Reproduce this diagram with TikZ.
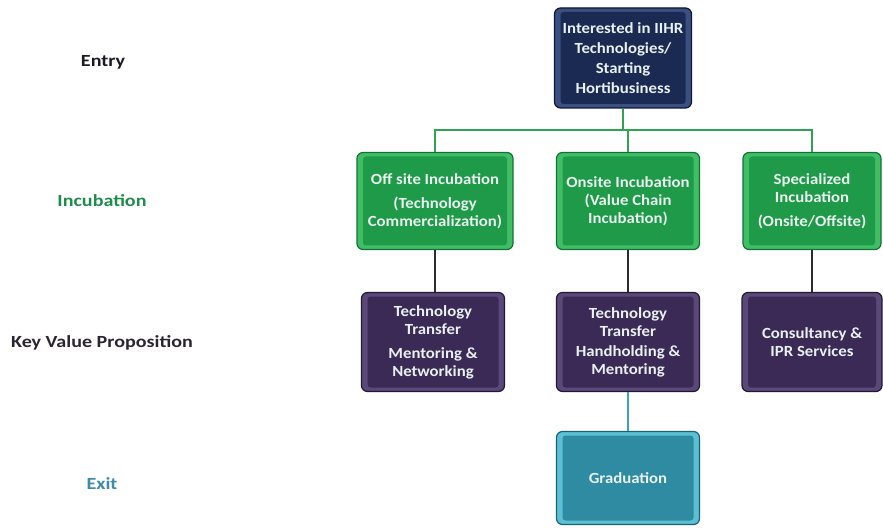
\documentclass[tikz,border=0pt]{standalone}
\usepackage{fontspec}
\setmainfont{Carlito}
\newfontfamily\boxfont[FakeStretch=1.08]{Carlito}
\newfontfamily\stagefont[FakeStretch=1.18]{Carlito}
\usetikzlibrary{calc}

\definecolor{navyF}{HTML}{1B2A52}
\definecolor{navyL}{HTML}{3A5080}
\definecolor{navyE}{HTML}{0E1733}
\definecolor{grnF}{HTML}{1E9A48}
\definecolor{grnL}{HTML}{40BE64}
\definecolor{grnE}{HTML}{12703A}
\definecolor{purF}{HTML}{3A2A55}
\definecolor{purL}{HTML}{5A4878}
\definecolor{purE}{HTML}{221735}
\definecolor{tealF}{HTML}{2E8BA2}
\definecolor{tealL}{HTML}{5CC0D4}
\definecolor{tealE}{HTML}{1B6275}
\definecolor{boxtext}{HTML}{E8F0F0}
\definecolor{busgreen}{HTML}{2FA352}
\definecolor{linkdark}{HTML}{2B2935}
\definecolor{linkteal}{HTML}{3FA3B3}
\definecolor{lblEntry}{HTML}{1A1A26}
\definecolor{lblInc}{HTML}{1F8C4C}
\definecolor{lblKey}{HTML}{2B2433}
\definecolor{lblExit}{HTML}{3C8BAA}

\tikzset{
  bevel/.style={path picture={
    \fill[#1, rounded corners=3pt]
      ([shift={(6pt,-4pt)}]path picture bounding box.north west) rectangle
      ([shift={(-6pt,4pt)}]path picture bounding box.south east);}},
  box/.style={rounded corners=6pt, line width=1.2pt, align=center,
    text=boxtext, font=\boxfont\bfseries\fontsize{15.5}{18}\selectfont, inner sep=1pt},
  navybox/.style={box, draw=navyE, fill=navyL, bevel=navyF},
  greenbox/.style={box, draw=grnE, fill=grnL, bevel=grnF},
  purplebox/.style={box, draw=purE, fill=purL, bevel=purF},
  tealbox/.style={box, draw=tealE, fill=tealL, bevel=tealF},
  stage/.style={font=\stagefont\bfseries\fontsize{17}{20}\selectfont},
  link/.style={line width=2.6pt},
}

\begin{document}
\begin{tikzpicture}[x=1pt,y=-1pt]
  \useasboundingbox (0,0) rectangle (883,529);

  % stage labels on the left
  \node[stage, text=lblEntry] (lentry) at (103,62) {Entry};
  \node[stage, text=lblInc]   (linc)   at (102,201) {Incubation};
  \node[stage, text=lblKey]   (lkey)   at (102,343) {Key Value Proposition};
  \node[stage, text=lblExit]  (lexit)  at (102,484) {Exit};

  % entry box
  \node[navybox, minimum width=137pt, minimum height=100pt,
        font=\boxfont\bfseries\fontsize{15.5}{20}\selectfont] (top) at (623,58)
    {Interested in IIHR\\Technologies/\\Starting\\Hortibusiness};

  % incubation boxes
  \node[greenbox, minimum width=156pt, minimum height=97pt] (g1) at (435,201)
    {Off site Incubation\\[6pt](Technology\\Commercialization)};
  \node[greenbox, minimum width=143pt, minimum height=97pt] (g2) at (628,201)
    {Onsite Incubation\\(Value Chain\\Incubation)};
  \node[greenbox, minimum width=138pt, minimum height=97pt] (g3) at (812,201)
    {Specialized\\Incubation\\[6pt](Onsite/Offsite)};

  % value proposition boxes
  \node[purplebox, minimum width=143pt, minimum height=99pt] (p1) at (433,342)
    {Technology\\Transfer\\[6pt]Mentoring \&\\Networking};
  \node[purplebox, minimum width=143pt, minimum height=99pt] (p2) at (628,342)
    {Technology\\Transfer\\[2pt]Handholding \&\\Mentoring};
  \node[purplebox, minimum width=140pt, minimum height=99pt] (p3) at (812,342)
    {Consultancy \&\\IPR Services};

  % exit box
  \node[tealbox, minimum width=143pt, minimum height=93pt] (grad) at (628,478)
    {Graduation};

  % connectors
  \coordinate (bus) at (623,130);
  \draw[link, busgreen] (top.south) -- (bus);
  \draw[link, busgreen] (g1.north) -- (g1.north |- bus) -- (g3.north |- bus) -- (g3.north);
  \draw[link, busgreen] (g2.north) -- (g2.north |- bus);

  \draw[link, linkdark] (g1.south) -- (g1.south |- p1.north);
  \draw[link, linkdark] (g2.south) -- (p2.north);
  \draw[link, linkdark] (g3.south) -- (p3.north);

  \draw[link, linkteal] (p2.south) -- (grad.north);
\end{tikzpicture}
\end{document}
